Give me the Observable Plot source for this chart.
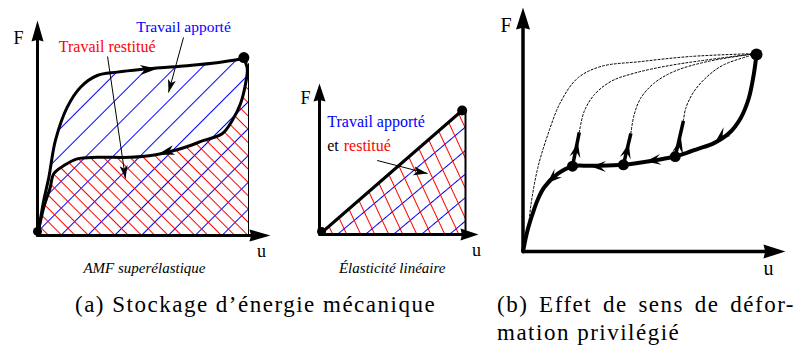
<!DOCTYPE html>
<html>
<head>
<meta charset="utf-8">
<script src="https://cdn.jsdelivr.net/npm/d3@7"></script>
<script src="https://cdn.jsdelivr.net/npm/@observablehq/plot@0.6"></script>
<style>
  html, body { margin: 0; padding: 0; background: #fff; }
  #wrap { position: relative; width: 800px; height: 352px; overflow: hidden; background: #fff; }
  .cap { position: absolute; font-family: "Liberation Serif", serif; font-size: 23px; line-height: 28px; letter-spacing: 1.5px; color: #000; white-space: nowrap; }
  .just { text-align: justify; text-align-last: justify; white-space: normal; }
</style>
</head>
<body>
<svg width="0" height="0" style="position:absolute;left:0;top:0">
  <defs>
    <pattern id="hatchBlueA" patternUnits="userSpaceOnUse" width="19" height="19" patternTransform="rotate(-45)">
      <rect x="0" y="0" width="19" height="1" fill="#0000ff"></rect>
    </pattern>
    <pattern id="hatchRedA" patternUnits="userSpaceOnUse" width="9.4" height="9.4" patternTransform="rotate(45)">
      <rect x="0" y="0" width="9.4" height="1" fill="#ff0000"></rect>
    </pattern>
    <pattern id="hatchBlueB" patternUnits="userSpaceOnUse" width="18" height="18" patternTransform="rotate(-40)">
      <rect x="0" y="0" width="18" height="1" fill="#0000ff"></rect>
    </pattern>
    <pattern id="hatchRedB" patternUnits="userSpaceOnUse" width="12.7" height="12.7" patternTransform="rotate(65)">
      <rect x="0" y="0" width="12.7" height="1" fill="#ff0000"></rect>
    </pattern>
  </defs>
</svg>
<div id="wrap">
  <div class="cap" style="left:75px;top:291px;">(a) Stockage d’énergie mécanique</div>
  <div class="cap just" style="left:497px;top:291px;width:298px;">(b) Effet de sens de défor-</div>
  <div class="cap" style="left:497px;top:319px;">mation privilégié</div>
</div>
<script>
// ---------------- DATA ----------------
// (a-1) AMF superélastique : loading curve (u, F)
const amfLoadU   = [0, 1.5, 3, 5.4, 8.5, 14.1, 20.4, 28.3, 37.8, 48.8, 69.2, 85, 97.6];
const amfLoadF   = [0, 10, 20, 33, 53.7, 72.5, 83.8, 90.4, 92.3, 93.8, 95.8, 97.6, 100];
// unloading curve (from the top point back to the origin)
const amfUnloadU = [97.6, 99.4, 98.6, 96.2, 92.3, 87.5, 78.8, 67.8, 56.7, 44, 28.3, 18.8, 12.5, 7.7, 6, 3, 0];
const amfUnloadF = [100, 94.5, 85.7, 74.4, 65, 57.5, 53.7, 49, 45.8, 44.2, 44.2, 43.3, 39.5, 34.9, 27, 16, 0];
const amfUMax = 100;
const amfPoints = [{u: 0, F: 2.3, r: 4.5}, {u: 97.8, F: 100.5, r: 5.5}];
const amfAxisTip = {u: 110.4, F: 121.5};
const amfCurveHeads = [{u: 56.7, F: 94.2, angle: -4}, {u: 56.9, F: 45.8, angle: 165}];
const amfNotes = [
  {u1: 69.2, F1: 111.9, u2: 62.1, F2: 80.8, angle: 105},
  {u1: 33.2, F1: 101.1, u2: 41.7, F2: 32.2, angle: 81.6}
];

// (a-2) Élasticité linéaire
const linU = [0, 97.7];
const linF = [0, 100];
const linUMax = 100;
const linPoints = [{u: 1.4, F: 2.4, r: 4.5}, {u: 97.7, F: 100, r: 5}];
const linAxisTip = {u: 108.9, F: 121.8};
const linNote = [{u1: 39.5, F1: 59.7, u2: 74, F2: 49.2, angle: 11}];

// (b) Effet de sens de déformation privilégié
const mainU = [100, 98.8, 96.7, 93.2, 88.2, 81.8, 74.7, 70.4, 65.2, 57.6, 43, 29.1, 21.2, 14.8, 9.1, 6.3, 4.2, 2, 0];
const mainF = [100, 89.7, 77.8, 67.7, 60, 55, 52, 50.2, 48.2, 46.5, 44, 43.5, 43.3, 39.4, 32.6, 26.3, 19.5, 11, 0];
const d1U = [2.5, 3.4, 6.3, 10.6, 16.2, 23.4, 33.3, 50.4, 71.8, 100];
const d1F = [14, 23.7, 42.3, 59.2, 76.1, 88, 93.9, 96.4, 99, 100.5];
const d2U = [24.1, 26.2, 30.5, 37.6, 47.6, 64.7, 100];
const d2F = [60.5, 71.1, 79.5, 86.3, 90.5, 94.8, 100.5];
const d3U = [46.2, 47.6, 50.4, 56.1, 64.7, 78.9, 100];
const d3F = [60, 69.4, 77.8, 85.4, 91.4, 96.4, 100.5];
const d4U = [68.7, 69.7, 73.2, 78.9, 86, 100];
const d4F = [66.3, 72.7, 81.2, 88.8, 94.8, 100.3];
const reloadSegs = [
  {u1: 21.2, F1: 43.3, u2: 24.1, F2: 60.5},
  {u1: 43, F1: 44, u2: 46.2, F2: 60},
  {u1: 65.2, F1: 48.2, u2: 68.7, F2: 66.3}
];
const bPoints = [{u: 21.2, F: 43.3, r: 5.5}, {u: 43, F: 44, r: 5.5}, {u: 65.2, F: 48.2, r: 5.5}, {u: 100, F: 100, r: 6}];
const bCurveHeads = [
  {u: 82.5, F: 56, angle: 140}, {u: 52.6, F: 45.7, angle: 172},
  {u: 29.1, F: 43.2, angle: 180}, {u: 10.3, F: 34.7, angle: 138},
  {u: 23.5, F: 55.3, angle: -78.7}, {u: 45.3, F: 54.8, angle: -76.6}, {u: 67.7, F: 57.4, angle: -77}
];
const bAxisTip = {u: 112.4, F: 123.9};

// ---------------- HELPERS ----------------
const zip = (U, F) => U.map((u, i) => ({u, F: F[i]}));
function head(angle, len, wid, notch) {
  const a = angle * Math.PI / 180, c = Math.cos(a), s = Math.sin(a);
  const P = (x, y) => [x * c - y * s, x * s + y * c];
  const pts = [P(0, 0), P(-len, -wid / 2), P(-len * notch, 0), P(-len, wid / 2)];
  return {draw(ctx) { ctx.moveTo(pts[0][0], pts[0][1]); for (let i = 1; i < pts.length; i++) ctx.lineTo(pts[i][0], pts[i][1]); ctx.closePath(); }};
}
const heads = (list, len, wid, notch) =>
  list.map(d => Plot.dot([d], {x: "u", y: "F", r: 1, symbol: head(d.angle, len, wid, notch), fill: "black", stroke: "none"}));
function axes(tip, sw, len, wid) {
  return [
    Plot.link([tip], {x1: () => 0, y1: () => 0, x2: () => 0, y2: d => d.F * 0.93, stroke: "black", strokeWidth: sw}),
    Plot.link([tip], {x1: () => 0, y1: () => 0, x2: d => d.u * 0.95, y2: () => 0, stroke: "black", strokeWidth: sw}),
    ...heads([{u: 0, F: tip.F, angle: -90}, {u: tip.u, F: 0, angle: 0}], len, wid, 0.92)
  ];
}
const label = (u, F, text, o = {}) =>
  Plot.text([text], {x: () => u, y: () => F, text: d => d, fontFamily: "Liberation Serif", fontSize: 16, fill: "black", ...o});
const dots = pts => Plot.dot(pts, {x: "u", y: "F", r: "r", fill: "black", stroke: "none"});
const common = {margin: 0, style: {background: "transparent", overflow: "visible"}};

// ---------------- PANEL a-1 ----------------
const amfLoad = zip(amfLoadU, amfLoadF);
const amfUnload = zip(amfUnloadU, amfUnloadF);
const p1 = Plot.plot({
  ...common, width: 280, height: 290,
  x: {type: "linear", domain: [0, 100], range: [37, 248], axis: null},
  y: {type: "linear", domain: [0, 100], range: [235, 58], axis: null},
  r: {type: "identity"},
  marks: [
    Plot.areaX(amfLoad, {y: "F", x1: "u", x2: () => amfUMax, fill: "url(#hatchBlueA)", curve: "catmull-rom"}),
    Plot.areaX(amfUnload, {y: "F", x1: "u", x2: () => amfUMax, fill: "url(#hatchRedA)", curve: "catmull-rom"}),
    Plot.ruleX([amfUMax], {x: d => d, y1: () => 0, y2: () => 97, stroke: "black", strokeWidth: 1}),
    ...axes(amfAxisTip, 3, 21, 12),
    Plot.line(amfLoad, {x: "u", y: "F", stroke: "black", strokeWidth: 3, curve: "catmull-rom"}),
    Plot.line(amfUnload, {x: "u", y: "F", stroke: "black", strokeWidth: 3, curve: "catmull-rom"}),
    Plot.link(amfNotes, {x1: "u1", y1: "F1", x2: "u2", y2: "F2", stroke: "black", strokeWidth: 1}),
    ...heads(amfCurveHeads, 17, 10, 0.72),
    ...heads(amfNotes.map(d => ({u: d.u2, F: d.F2, angle: d.angle})), 13, 8, 0.75),
    dots(amfPoints),
    label(69.2, 117.5, "Travail apporté", {fill: "#0000ff", fontSize: 15.5}),
    label(33, 106.8, "Travail restitué", {fill: "#ff0000"}),
    label(-9, 111.6, "F", {fontSize: 18}),
    label(106.2, -9, "u", {fontSize: 18}),
    label(50.7, -18.4, "AMF superélastique", {fontStyle: "italic", fontSize: 15})
  ]
});

// ---------------- PANEL a-2 ----------------
const lin = zip(linU, linF);
const p2 = Plot.plot({
  ...common, width: 200, height: 290,
  x: {type: "linear", domain: [0, 100], range: [39, 185], axis: null},
  y: {type: "linear", domain: [0, 100], range: [234, 110], axis: null},
  r: {type: "identity"},
  marks: [
    Plot.areaX(lin, {y: "F", x1: "u", x2: () => linUMax, fill: "url(#hatchBlueB)"}),
    Plot.areaX(lin, {y: "F", x1: "u", x2: () => linUMax, fill: "url(#hatchRedB)"}),
    Plot.ruleX([linUMax], {x: d => d, y1: () => 0, y2: () => 100, stroke: "black", strokeWidth: 2}),
    ...axes(linAxisTip, 3, 18, 12),
    Plot.line(lin, {x: "u", y: "F", stroke: "black", strokeWidth: 3}),
    Plot.link(linNote, {x1: "u1", y1: "F1", x2: "u2", y2: "F2", stroke: "black", strokeWidth: 1}),
    ...heads(linNote.map(d => ({u: d.u2, F: d.F2, angle: d.angle})), 14, 9, 0.75),
    dots(linPoints),
    label(5.3, 90.7, "Travail apporté", {fill: "#0000ff", textAnchor: "start"}),
    label(5.3, 71.8, "et", {textAnchor: "start"}),
    label(16.6, 71.8, "restitué", {fill: "#ff0000", textAnchor: "start"}),
    label(-9.6, 110.1, "F", {fontSize: 18}),
    label(107.5, -12.9, "u", {fontSize: 18}),
    label(49.8, -27, "Élasticité linéaire", {fontStyle: "italic", fontSize: 15})
  ]
});

// ---------------- PANEL b ----------------
const main = zip(mainU, mainF);
const dotted = [zip(d1U, d1F), zip(d2U, d2F), zip(d3U, d3F), zip(d4U, d4F)];
const p3 = Plot.plot({
  ...common, width: 310, height: 290,
  x: {type: "linear", domain: [0, 100], range: [32.5, 266], axis: null},
  y: {type: "linear", domain: [0, 100], range: [251, 54], axis: null},
  r: {type: "identity"},
  marks: [
    ...dotted.map(d => Plot.line(d, {x: "u", y: "F", stroke: "black", strokeWidth: 1, strokeDasharray: "2,2", curve: "catmull-rom"})),
    ...axes(bAxisTip, 3.5, 22, 14),
    Plot.line(main, {x: "u", y: "F", stroke: "black", strokeWidth: 4, curve: "catmull-rom"}),
    Plot.link(reloadSegs, {x1: "u1", y1: "F1", x2: "u2", y2: "F2", stroke: "black", strokeWidth: 3.5}),
    ...heads(bCurveHeads, 15, 11, 0.6),
    dots(bPoints),
    label(-7.3, 114.7, "F", {fontSize: 20}),
    label(105.1, -8.6, "u", {fontSize: 20})
  ]
});

const wrap = document.getElementById("wrap");
[[p1, 0, 0], [p2, 280, 0], [p3, 490, 0]].forEach(([p, l, t]) => {
  p.style.position = "absolute";
  p.style.left = l + "px";
  p.style.top = t + "px";
  p.style.maxWidth = "none";
  wrap.appendChild(p);
});
</script>
</body>
</html>
